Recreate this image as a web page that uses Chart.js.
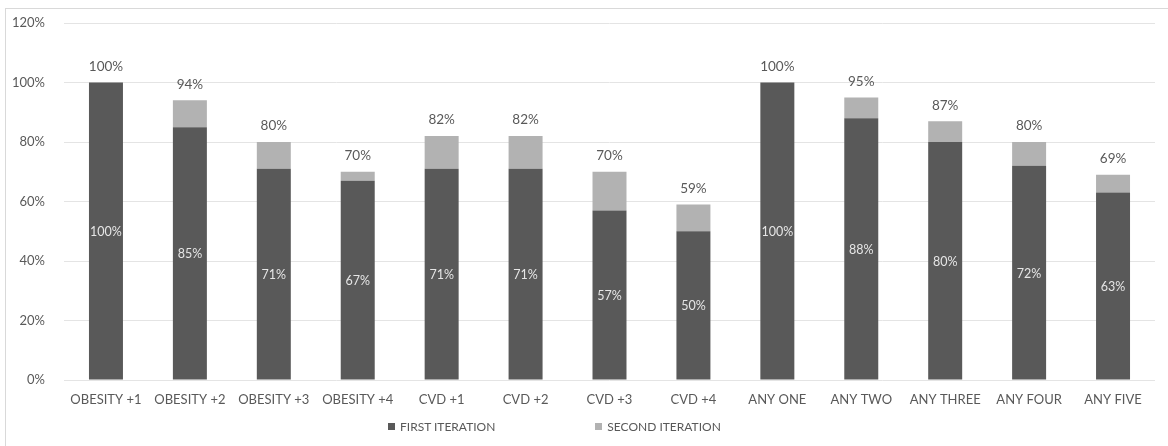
<!DOCTYPE html>
<html>
<head>
<meta charset="utf-8">
<script src="https://cdn.jsdelivr.net/npm/chart.js@4/dist/chart.umd.min.js"></script>
<style>
  html, body { margin: 0; padding: 0; background: #fff; }
  #wrap { position: relative; width: 1168px; height: 446px; overflow: hidden; }
  #frame { position: absolute; left: 5px; top: 8px; width: 1200px; height: 500px;
           border-left: 1px solid #d9d9d9; border-top: 1px solid #d9d9d9; }
  canvas { position: absolute; left: 0; top: 0; }
  #legend { position: absolute; top: 419px; left: 388px; display: flex; align-items: center;
            font-family: Lato, "Open Sans", sans-serif; font-size: 12px; color: #595959; }
  .item { display: flex; align-items: center; }
  .box { width: 7px; height: 7px; margin-right: 5px; }
</style>
</head>
<body>
<div id="wrap">
  <div id="frame"></div>
  <canvas id="c" width="1168" height="446"></canvas>
  <div id="legend"></div>
</div>
<script>
// Categories and values (percent)
const categories = ["OBESITY +1", "OBESITY +2", "OBESITY +3", "OBESITY +4", "CVD +1", "CVD +2", "CVD +3", "CVD +4",
                    "ANY ONE", "ANY TWO", "ANY THREE", "ANY FOUR", "ANY FIVE"];
const firstIteration  = [100, 85, 71, 67, 71, 71, 57, 50, 100, 88, 80, 72, 63];
const secondIteration = [0, 9, 9, 3, 11, 11, 13, 9, 0, 7, 7, 8, 6];
const seriesNames = ["FIRST ITERATION", "SECOND ITERATION"];
const seriesColors = ["#595959", "#b2b2b2"];
const yTicks = [0, 20, 40, 60, 80, 100, 120];

const FONT = "Lato, 'Open Sans', sans-serif";

// Value labels: inside the first segment and the stack total above each bar
const valueLabels = {
  id: "valueLabels",
  afterDatasetsDraw(chart) {
    const ctx = chart.ctx;
    const m0 = chart.getDatasetMeta(0);
    const m1 = chart.getDatasetMeta(1);
    ctx.save();
    ctx.textAlign = "center";
    ctx.textBaseline = "middle";
    m0.data.forEach((bar, i) => {
      ctx.font = "12.5px " + FONT;
      ctx.fillStyle = "#e6e6e6";
      ctx.fillText(firstIteration[i] + "%", bar.x, (bar.y + bar.base) / 2 + 1);
      const top = m1.data[i];
      const total = firstIteration[i] + secondIteration[i];
      ctx.font = "13.5px " + FONT;
      ctx.fillStyle = "#595959";
      ctx.fillText(total + "%", top.x, top.y - 16);
    });
    ctx.restore();
  }
};

new Chart(document.getElementById("c"), {
  type: "bar",
  data: {
    labels: categories,
    datasets: [
      { label: seriesNames[0], data: firstIteration, backgroundColor: seriesColors[0] },
      { label: seriesNames[1], data: secondIteration, backgroundColor: seriesColors[1] }
    ]
  },
  options: {
    responsive: false,
    animation: false,
    layout: { padding: { left: 0, right: 13, top: 23, bottom: 36 } },
    datasets: { bar: { barPercentage: 1, categoryPercentage: 0.405 } },
    plugins: { legend: { display: false }, tooltip: { enabled: false } },
    scales: {
      x: {
        stacked: true,
        grid: { display: false, drawTicks: false },
        border: { display: false },
        ticks: { color: "#595959", font: { family: FONT, size: 13 }, padding: 12, maxRotation: 0, autoSkip: false },
        afterFit: s => { s.height = 30; s.paddingLeft = 0; s.paddingRight = 0; }
      },
      y: {
        stacked: true,
        min: 0, max: 120,
        afterBuildTicks: s => { s.ticks = yTicks.map(v => ({ value: v })); },
        grid: { color: "#e4e4e4", drawTicks: false },
        border: { display: false },
        ticks: { color: "#595959", font: { family: FONT, size: 13 }, padding: 19, callback: v => v + "%" },
        afterFit: s => { s.width = 64; s.paddingTop = 0; s.paddingBottom = 0; }
      }
    }
  },
  plugins: [valueLabels]
});

// Legend
const legend = document.getElementById("legend");
seriesNames.forEach((name, i) => {
  const item = document.createElement("div");
  item.className = "item";
  if (i > 0) item.style.marginLeft = "100px";
  const box = document.createElement("span");
  box.className = "box";
  box.style.background = seriesColors[i];
  const txt = document.createElement("span");
  txt.textContent = name;
  item.appendChild(box);
  item.appendChild(txt);
  legend.appendChild(item);
});
</script>
</body>
</html>
